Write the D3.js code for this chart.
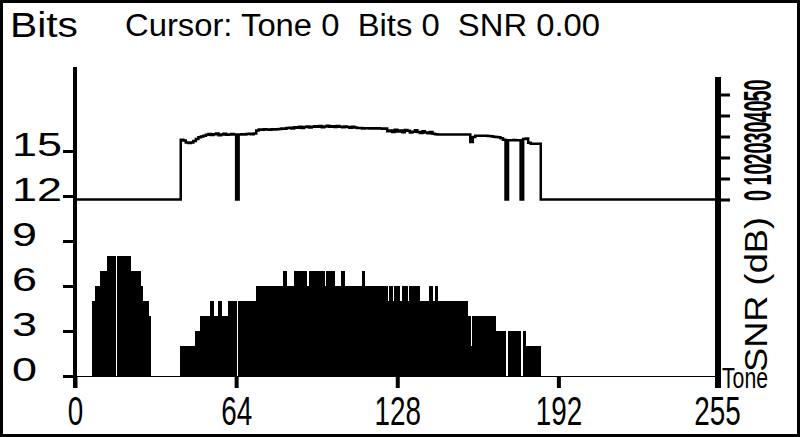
<!DOCTYPE html>
<html>
<head>
<meta charset="utf-8">
<script src="https://cdn.jsdelivr.net/npm/d3@7.9.0/dist/d3.min.js"></script>
<style>
  body { margin: 0; background: #fff; }
  svg { display: block; }
  text { font-family: "Liberation Sans", Arial, sans-serif; fill: #000; }
</style>
</head>
<body>
<svg id="chart" width="800" height="437"></svg>
<script>
// bits loaded per tone, tones 0..255 (16 per row)
const bits = [
  0,0,0,0,0,0,0,5,6,6,7,7,7,8,8,8,
  0,8,8,8,8,8,7,7,7,7,6,5,5,4,0,0,
  0,0,0,0,0,0,0,0,0,0,2,2,2,2,2,2,
  3,3,4,4,4,4,5,4,4,5,4,4,4,5,5,5,
  0,5,5,5,5,5,5,5,6,6,6,6,6,6,6,6,
  6,6,6,7,6,6,6,7,7,7,7,7,6,7,7,7,
  7,7,7,6,7,7,7,6,6,6,7,6,6,6,6,6,
  6,6,7,6,6,6,6,6,6,6,6,6,5,6,5,6,
  6,5,6,6,5,6,6,6,6,5,5,5,5,6,5,6,
  5,5,5,5,5,5,5,5,5,5,5,5,4,2,4,4,
  4,4,4,4,4,4,4,3,3,3,3,0,3,3,3,3,
  3,0,3,2,2,2,2,2,2,0,0,0,0,0,0,0,
  0,0,0,0,0,0,0,0,0,0,0,0,0,0,0,0,
  0,0,0,0,0,0,0,0,0,0,0,0,0,0,0,0,
  0,0,0,0,0,0,0,0,0,0,0,0,0,0,0,0,
  0,0,0,0,0,0,0,0,0,0,0,0,0,0,0,0
];

// SNR in dB per tone
const snr = [
  0,0,0,0,0,0,0,0,0,0,0,0,0,0,0,0,
  0,0,0,0,0,0,0,0,0,0,0,0,0,0,0,0,
  0,0,0,0,0,0,0,0,0,0,28.4,28.1,27.2,26.9,27.1,27.8,
  28.8,29.6,30.0,30.4,30.8,31.2,30.7,31.1,31.4,30.6,31.0,31.3,30.8,31.0,31.2,30.9,
  0,31.0,31.1,31.0,31.2,31.3,31.1,31.4,32.8,33.3,33.2,33.4,33.3,33.2,33.4,33.3,
  33.5,33.6,33.8,33.7,34.0,34.2,33.8,34.4,34.2,34.6,34.0,34.5,34.8,34.3,34.6,34.9,
  34.7,35.0,34.4,34.8,35.1,34.6,34.9,34.5,35.0,34.7,34.4,34.8,34.5,34.2,34.6,34.3,
  34.0,34.1,33.8,33.9,33.9,33.8,33.9,33.8,33.9,33.8,33.7,33.8,32.5,32.9,32.1,33.2,
  32.4,32.8,32.0,33.1,32.7,31.9,32.3,33.0,32.2,31.7,32.5,31.9,31.5,32.1,31.3,31.1,
  31.0,31.0,31.0,31.0,31.0,31.0,31.0,31.0,31.0,31.0,31.0,31.0,30.9,27.4,29.8,30.3,
  30.3,30.4,30.3,30.3,30.2,30.1,29.9,29.8,29.6,29.2,28.5,0,28.2,28.2,28.3,28.2,
  28.2,0,28.8,29.1,27.0,26.6,26.6,26.6,26.6,0,0,0,0,0,0,0,
  0,0,0,0,0,0,0,0,0,0,0,0,0,0,0,0,
  0,0,0,0,0,0,0,0,0,0,0,0,0,0,0,0,
  0,0,0,0,0,0,0,0,0,0,0,0,0,0,0,0,
  0,0,0,0,0,0,0,0,0,0,0,0,0,0,0,0
];

const toneTicks = [0, 64, 128, 192, 255];
const bitTicks = [0, 3, 6, 9, 12, 15];
const snrTicks = [0, 10, 20, 30, 40, 50];
const cursorText = "Cursor: Tone 0\u00a0\u00a0Bits 0\u00a0\u00a0SNR 0.00";

const svg = d3.select('#chart');

const x = d3.scaleLinear().domain([0, 255]).range([75, 717]);
const yBits = d3.scaleLinear().domain([0, 15]).range([376, 151]);
const ySnr = d3.scaleLinear().domain([0, 50]).range([199.5, 94.5]);

svg.append('rect').attr('x', 1.5).attr('y', 1.5).attr('width', 797).attr('height', 434)
  .attr('fill', '#fff').attr('stroke', '#000').attr('stroke-width', 3);

// titles
svg.append('text').attr('x', 10).attr('y', 37).attr('font-size', 35)
  .attr('textLength', 68).attr('lengthAdjust', 'spacingAndGlyphs').text('Bits');
svg.append('text').attr('x', 125).attr('y', 36).attr('font-size', 31)
  .attr('textLength', 475).attr('lengthAdjust', 'spacingAndGlyphs').text(cursorText);

// bars
let data = bits.map((b, i) => ({ tone: i, bits: b, snr: snr[i] }));

svg.append('g').selectAll('rect')
  .data(data.filter(d => d.bits > 0))
  .join('rect')
  .attr('x', d => Math.floor(x(d.tone)))
  .attr('width', d => Math.ceil(x(d.tone + 1)) - Math.floor(x(d.tone)))
  .attr('y', d => yBits(d.bits))
  .attr('height', d => yBits(0) - yBits(d.bits))
  .attr('fill', '#000')
  .attr('shape-rendering', 'crispEdges');

// snr line (one extra point so the last tone gets its width)
let line = d3.line()
  .x(d => x(d.tone))
  .y(d => ySnr(d.snr))
  .curve(d3.curveStepAfter);

svg.append('path')
  .datum(data.concat([{ tone: 256, snr: 0 }]))
  .attr('d', line)
  .attr('fill', 'none')
  .attr('stroke', '#000')
  .attr('stroke-width', 2.5);

// bottom axis
let xAxis = svg.append('g')
  .attr('transform', 'translate(0,376)')
  .call(d3.axisBottom(x).tickValues(toneTicks).tickSize(12).tickSizeOuter(0));
xAxis.select('.domain').remove();
xAxis.selectAll('line').attr('stroke-width', 4);
xAxis.selectAll('text')
  .attr('y', 49).attr('dy', 0)
  .attr('font-size', 40)
  .attr('textLength', d => String(d).length * 15.5)
  .attr('lengthAdjust', 'spacingAndGlyphs')
  .style('font-family', '"Liberation Sans", Arial, sans-serif');

svg.append('line').attr('x1', 63).attr('x2', 720).attr('y1', 376.5).attr('y2', 376.5)
  .attr('stroke', '#000').attr('stroke-width', 1.2);

// left axis
let yAxis = svg.append('g')
  .attr('transform', 'translate(75,0)')
  .call(d3.axisLeft(yBits).tickValues(bitTicks).tickSize(12).tickSizeOuter(0));
yAxis.select('.domain').remove();
yAxis.selectAll('line').attr('stroke-width', 3);
yAxis.selectAll('text')
  .attr('x', -63).attr('dy', 4)
  .attr('text-anchor', 'start')
  .attr('font-size', 34)
  .attr('textLength', d => String(d).length * 25)
  .attr('lengthAdjust', 'spacingAndGlyphs')
  .style('font-family', '"Liberation Sans", Arial, sans-serif');

svg.append('line').attr('x1', 75).attr('x2', 75).attr('y1', 67).attr('y2', 388)
  .attr('stroke', '#000').attr('stroke-width', 4);

// right axis: ticks from the axis, rotated labels squeezed with a scale
let rAxis = svg.append('g')
  .attr('transform', 'translate(718,0)')
  .call(d3.axisRight(ySnr).tickValues(snrTicks).tickSize(12).tickSizeOuter(0));
rAxis.select('.domain').remove();
rAxis.selectAll('line').attr('stroke-width', 3);
rAxis.selectAll('text').remove();

svg.append('g').selectAll('text')
  .data(snrTicks)
  .join('text')
  .attr('transform', d => `translate(771,${ySnr(d) - 4}) rotate(-90) scale(0.52,1)`)
  .attr('text-anchor', 'middle')
  .attr('font-size', 38)
  .attr('font-weight', 'bold')
  .text(d => d);

svg.append('line').attr('x1', 718).attr('x2', 718).attr('y1', 77).attr('y2', 388)
  .attr('stroke', '#000').attr('stroke-width', 6);

svg.append('text')
  .attr('transform', 'translate(767,372) rotate(-90) scale(1.17,1)')
  .attr('font-size', 31)
  .text('SNR (dB)');

svg.append('text').attr('x', 722).attr('y', 388).attr('font-size', 30)
  .attr('textLength', 46).attr('lengthAdjust', 'spacingAndGlyphs')
  .text('Tone');
</script>
</body>
</html>
